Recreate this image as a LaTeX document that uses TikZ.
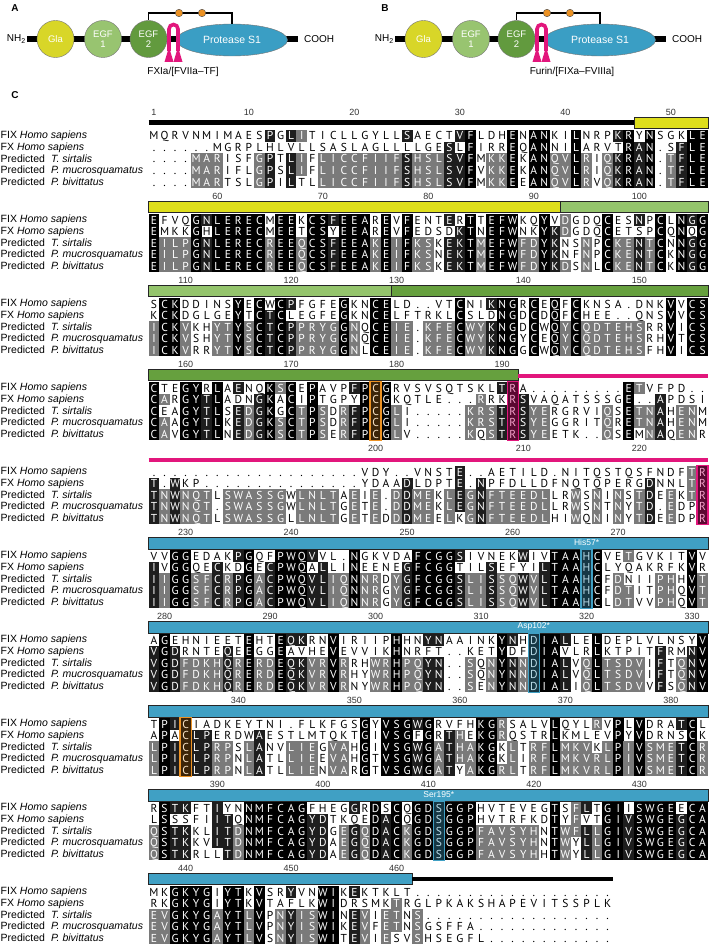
\documentclass[tikz,border=0pt]{standalone}
\usepackage{fontspec}
\setmainfont{Liberation Sans}
\newfontfamily\seqfont{PT Sans}
\usetikzlibrary{shapes.geometric}
\definecolor{glaY}{RGB}{216,214,40}
\definecolor{egfA}{RGB}{152,196,112}
\definecolor{egfB}{RGB}{98,154,62}
\definecolor{protB}{RGB}{58,158,196}
\definecolor{pinkC}{RGB}{226,22,124}
\definecolor{orgC}{RGB}{236,146,36}
\definecolor{barY}{RGB}{222,222,28}
\definecolor{barGa}{RGB}{148,196,108}
\definecolor{barGb}{RGB}{102,160,62}
\definecolor{barBl}{RGB}{64,160,196}
\definecolor{shadeD}{RGB}{30,30,30}
\definecolor{shadeM}{RGB}{122,122,122}
\tikzset{
 cellbase/.style={inner sep=0pt, minimum width=10.6pt, minimum height=11.4pt, text height=8pt, text depth=0pt, font=\seqfont\fontsize{11.5}{11.5}\selectfont},
 sfive/.style={cellbase, fill=black, text=white},
 sfour/.style={cellbase, fill=shadeD, text=white},
 sthree/.style={cellbase, fill=shadeM, text=white},
 szero/.style={cellbase, text=black},
 rulenum/.style={inner sep=0pt, font=\fontsize{9}{9}\selectfont, text=black!80},
 rowlab/.style={inner sep=0pt, anchor=west, font=\fontsize{10.5}{11}\selectfont},
 barline/.style={draw=black!85, line width=0.5pt},
 colbox/.style={line width=1.3pt},
 barlab/.style={inner sep=0pt, font=\fontsize{8.5}{8.5}\selectfont, text=white},
 dom/.style={circle, minimum size=37pt, inner sep=0pt, draw=black!55, line width=0.4pt, text=white, align=center, font=\fontsize{9.5}{10.5}\selectfont},
 panlab/.style={font=\bfseries\fontsize{10}{10}\selectfont, inner sep=0pt},
 txt/.style={font=\fontsize{10}{10}\selectfont, inner sep=0pt},
 odot/.style={circle, minimum size=7.5pt, inner sep=0pt, fill=orgC, draw=black!70, line width=0.4pt},
}

\ExplSyntaxOn
\int_new:N \g_aln_res_int
\int_new:N \g_aln_blk_int
\int_new:N \l_aln_n_int
\str_new:N \l_aln_c_str
\tl_new:N \l_aln_pos_tl
\tl_new:N \l_aln_sty_tl
\fp_new:N \l_aln_y_fp
\str_new:c { l_aln_row_1_str }
\str_new:c { l_aln_row_2_str }
\str_new:c { l_aln_row_3_str }
\str_new:c { l_aln_row_4_str }
\str_new:c { l_aln_row_5_str }
\cs_generate_variant:Nn \str_item:Nn { c }
\cs_generate_variant:Nn \str_set:Nn { c }
\cs_generate_variant:Nn \str_count:N { c }
\cs_new:Npn \aln_x:n #1 { \fp_eval:n { 143.45 + 10.55 * (#1) } }
\cs_new_protected:Npn \aln_put:nnnn #1 #2 #3 #4
  { \node~[#1]~(#2)~at~(#3)~{#4}; }
\cs_new_protected:Npn \aln_cell:nn #1 #2
  {
    \str_set:Nx \l_aln_c_str { \str_item:cn { l_aln_row_#1_str } {#2} }
    \tl_set:Nx \l_aln_pos_tl { \aln_x:n {#2} , \fp_eval:n { \l_aln_y_fp + (#1 - 1) * 11.5 } }
    \str_if_eq:VnTF \l_aln_c_str { . }
      { \tl_set:Nn \l_aln_sty_tl { szero } }
      {
        \int_zero:N \l_aln_n_int
        \int_step_inline:nn {5}
          {
            \str_if_eq:eeT { \str_item:cn { l_aln_row_##1_str } {#2} } { \l_aln_c_str }
              { \int_incr:N \l_aln_n_int }
          }
        \int_case:nnF { \l_aln_n_int }
          {
            {5} { \tl_set:Nn \l_aln_sty_tl { sfive } }
            {4} { \tl_set:Nn \l_aln_sty_tl { sfour } }
            {3} { \tl_set:Nn \l_aln_sty_tl { sthree } }
          }
          { \tl_set:Nn \l_aln_sty_tl { szero } }
      }
    \use:x
      {
        \exp_not:N \aln_put:nnnn { \l_aln_sty_tl }
          { c-\int_use:N \g_aln_blk_int -#1-#2 } { \l_aln_pos_tl } { \l_aln_c_str }
      }
  }
\cs_new_protected:Npn \alnblock #1 #2 #3 #4 #5 #6 #7
  {
    \int_gincr:N \g_aln_blk_int
    \fp_set:Nn \l_aln_y_fp {#1}
    \str_set:cn { l_aln_row_1_str } {#3}
    \str_set:cn { l_aln_row_2_str } {#4}
    \str_set:cn { l_aln_row_3_str } {#5}
    \str_set:cn { l_aln_row_4_str } {#6}
    \str_set:cn { l_aln_row_5_str } {#7}
    \int_step_inline:nn { \str_count:c { l_aln_row_1_str } }
      {
        \str_if_eq:eeF { \str_item:cn { l_aln_row_1_str } {##1} } { . }
          {
            \int_gincr:N \g_aln_res_int
            \bool_lazy_or:nnT
              { \int_compare_p:nNn { \int_mod:nn { \g_aln_res_int } {10} } = {0} }
              { \int_compare_p:nNn { \g_aln_res_int } = {1} }
              {
                \use:x
                  {
                    \exp_not:N \aln_put:nnnn { rulenum } { num-\int_use:N \g_aln_res_int }
                      { \aln_x:n {##1} , #2 } { \int_use:N \g_aln_res_int }
                  }
              }
          }
        \int_step_inline:nn {5} { \aln_cell:nn {####1} {##1} }
      }
  }
\ExplSyntaxOff

\newcommand{\dompanel}[2]{%
 \begin{scope}[xshift=#2pt]
  \node[txt, anchor=east] (#1nh) at (26,39) {NH\textsubscript{2}};
  \node[txt, anchor=west] (#1co) at (304,39) {COOH};
  \draw[line width=6pt] ([xshift=1pt]#1nh.east) -- ([xshift=-6pt]#1co.west);
  \node[dom, fill=glaY] (#1gla) at (55.5,39) {Gla};
  \node[dom, fill=egfA] (#1ea) at (103,39) {EGF\\1};
  \node[dom, fill=egfB] (#1eb) at (148.5,39) {EGF\\2};
  \node[ellipse, minimum width=111pt, minimum height=32pt, inner sep=0pt, fill=protB, draw=black!55, line width=0.4pt, text=white, font=\fontsize{10.5}{11}\selectfont] (#1pr) at (232,40) {Protease S1};
  \draw[line width=1.8pt] (#1eb.north) -- ++(0,-7.5) -| (#1pr.north);
  \node[odot] (#1oa) at (179,13) {};
  \node[odot] (#1ob) at (202,13) {};
  \draw[pinkC, line width=3.6pt] (169,51) -- (169,29) arc[start angle=180, end angle=360, radius=4.5] -- (178,51);
  \fill[pinkC] (169,47) -- (164.5,62) -- (173.5,62) -- cycle;
  \fill[pinkC] (178,47) -- (173.5,62) -- (182.5,62) -- cycle;
 \end{scope}}

\begin{document}
\begin{tikzpicture}[x=1pt, y=-1pt]
\useasboundingbox (0,0) rectangle (709,944);
\fill[white] (0,0) rectangle (709,944);

% ---------- panels A and B
\node[panlab] (labA) at (15,8) {A};
\node[panlab] (labB) at (385,8) {B};
\node[panlab] (labC) at (15,95) {C};
\dompanel{a}{0}
\dompanel{b}{368}
\node[txt] (cleavA) at (183,72) {FXIa/[FVIIa--TF]};
\node[txt] (cleavB) at (572,72) {Furin/[FIXa--FVIIIa]};

% ---------- domain bars
\draw[line width=5pt] (148.73,123) -- (634.03,123);
\filldraw[barline, fill=barY] (634.03,117.5) rectangle (707.88,128.5);
\filldraw[barline, fill=barY] (148.73,201.5) rectangle (560.18,212.5);
\filldraw[barline, fill=barGa] (560.18,201.5) rectangle (707.88,212.5);
\filldraw[barline, fill=barGa] (148.73,285.5) rectangle (391.38,296.5);
\filldraw[barline, fill=barGb] (391.38,285.5) rectangle (707.88,296.5);
\filldraw[barline, fill=barGb] (148.73,369.5) rectangle (517.98,380.5);
\draw[pinkC, line width=4pt] (517.98,376) -- (707.88,376);
\draw[pinkC, line width=4pt] (148.73,460) -- (707.88,460);
\filldraw[barline, fill=barBl] (148.73,537) rectangle (707.88,549);
\filldraw[barline, fill=barBl] (148.73,621) rectangle (707.88,633);
\filldraw[barline, fill=barBl] (148.73,705) rectangle (707.88,717);
\filldraw[barline, fill=barBl] (148.73,789) rectangle (707.88,801);
\filldraw[barline, fill=barBl] (148.73,873.5) rectangle (412.48,884.5);
\draw[line width=4.5pt] (412.48,879) -- (612.93,879);

\node[barlab] (his) at (586.55,542.5) {His57*};
\node[barlab] (asp) at (533.8,626.5) {Asp102*};
\node[barlab] (ser) at (438.85,794.5) {Ser195*};

% ---------- row labels
\foreach \k in {0,...,9}{
  \node[rowlab] (lfix\k) at (0.5,136+84*\k) {FIX \textit{Homo sapiens}};
  \node[rowlab] (lfx\k) at (0.5,147.5+84*\k) {FX \textit{Homo sapiens}};
  \node[rowlab] (lts\k) at (0.5,159+84*\k) {Predicted\hspace{6pt}\textit{T. sirtalis}};
  \node[rowlab] (lpm\k) at (0.5,170.5+84*\k) {Predicted\hspace{6pt}\textit{P. mucrosquamatus}};
  \node[rowlab] (lpb\k) at (0.5,182+84*\k) {Predicted\hspace{6pt}\textit{P. bivittatus}};
}

% ---------- alignment
\alnblock{136}{112}
{MQRVNMIMAESPGLITICLLGYLLSAECTVFLDHENANKILNRPKRYNSGKLE}
{......MGRPLHLVLLSASLAGLLLLGESLFIRREQANNILARVTRAN.SFLE}
{....MARISFGPTLIFLICCFIIFSHSLSVFMKKEKANQVLRIQKRAN.TFLE}
{....MARIFLGPSLIFLICCFIIFSHSLSVFVKKEKANQVLRIQKRAN.TFLE}
{....MARTSLGPILTLLICCFIIFSHSLSVFMKKEEANQVLRVQKRAN.TFLE}
\alnblock{220}{196}
{EFVQGNLERECMEEKCSFEEAREVFENTERTTEFWKQYVDGDQCESNPCLNGG}
{EMKKGHLERECMEETCSYEEAREVFEDSDKTNEFWNKYKDGDQCETSPCQNQG}
{EILPGNLERECREEQCSFEEAKEIFKSKEKTMEFWFDYKNSNPCKENTCNNGG}
{EILPGNLERECREEQCSFEEAKEIFKSNEKTMEFWFDYKNFNPCKENTCKNGG}
{EILPGNLERECREEQCSFEEAKEIFKSKEKTMEFWFDYKDSNLCKENTCKNGG}
\alnblock{304}{280}
{SCKDDINSYECWCPFGFEGKNCELD..VTCNIKNGRCEQFCKNSA.DNKVVCS}
{KCKDGLGEYTCTCLEGFEGKNCELFTRKLCSLDNGDCDQFCHEE..QNSVVCS}
{ICKVKHYTYSCTCPPRYGGNQCEIE.KFECWYKNGDCWQYCQDTEHSRRVICS}
{ICKVSHYTYSCTCPPRYGGNQCEIE.KFECWYKNGYCEQYCQDTEHSRHVTCS}
{ICKVRRYTYSCTCPPRYGGNLCEIE.KFECWYKNGGCWQYCQDTEHSFHVICS}
\alnblock{388}{364}
{CTEGYRLAENQKSCEPAVPFPCGRVSVSQTSKLTRA.........ETVFPD..}
{CARGYTLADNGKACIPTGPYPCGKQTLE...RRKRSVAQATSSSGE..APDSI}
{CEAGYTLSEDGKGCTPSDRFPCGLI.....KRSTRSYERGRVIQSETNAHENM}
{CAAGYTLKEDGKSCTPSDRFPCGLI.....KRSTRSYEGGRITQRETNAHENM}
{CAVGYTLNEDGKSCTPSERFPCGLV.....KQSTRSYEETK..QSEMNAQENR}
\alnblock{472}{448}
{....................VDY..VNSTE..AETILD.NITQSTQSFNDFTR}
{T.WKP...............YDAADLDPTE.NPFDLLDFNQTQPERGDNNLTR}
{TNWNQTLSWASSGWLNLTAEIE.DDMEKLEGNFTEEDLLRWSNINSTDEEKTR}
{TNWNQT.SWASSGWLNLTGETE.DDMEKLEGNFTEEDLLRWSNTNYTD.EDPR}
{TNWNQTLSWASSGLLNLTGETEDDDMEELKGNFTEEDLHIWQNINYTDEEDPR}
\alnblock{556}{532}
{VVGGEDAKPGQFPWQVVL.NGKVDAFCGGSIVNEKWIVTAAHCVETGVKITVV}
{IVGGQECKDGECPWQALLINEENEGFCGGTILSEFYILTAAHCLYQAKRFKVR}
{IIGGSFCRPGACPWQVLIQNNRDYGFCGGSLISSQWVLTAAHCFDNIIPHHVT}
{IIGGSFCRPGACPWQVLIQNNRGYGFCGGSLISSQWVLTAAHCFDTITPHQVT}
{IIGGSFCRPGACPWQVLIQNNRGYGFCGGSLISSQWVLTAAHCLDTVVPHQVT}
\alnblock{640}{616}
{AGEHNIEETEHTEQKRNVIRIIPHHNYNAAINKYNHDIALLELDEPLVLNSYV}
{VGDRNTEQEEGGEAVHEVEVVIKHNRFT..KETYDFDIAVLRLKTPITFRMNV}
{VGDFDKHQRERDEQKVRVRRHWRHPQYN..SQNYNNDIALVQLTSDVIFTQNV}
{VGDFDKHQRERDEQKVRVRHYWRHPQYN..SQNYNNDIALVQLTSDVIFTQNV}
{VGDFDKHQRERDEQKVRVRNYWRHPQYN..SENYNNDIALIQLTSDVVFSQNV}
\alnblock{724}{700}
{TPICIADKEYTNI.FLKFGSGYVSGWGRVFHKGRSALVLQYLRVPLVDRATCL}
{APACLPERDWAESTLMTQKTGIVSGFGRTHEKGRQSTRLKMLEVPYVDRNSCK}
{LPICLPRPSLANVLIEGVAHGIVSGWGATHAKGKLTRFLMKVKLPIVSMETCR}
{LPICLPRPNLATLLIEEVAHGTVSGWGATHAKGKLIRFLMKVRLPIVSMETCR}
{LPICLPRPNLATLLIENVARGTVSGWGATYAKGRLTRFLMKVRLPIVSMETCR}
\alnblock{808}{784}
{RSTKFTIYNNMFCAGFHEGGRDSCQGDSGGPHVTEVEGTSFLTGIISWGEECA}
{LSSSFIITQNMFCAGYDTKQEDACQGDSGGPHVTRFKDTYFVTGIVSWGEGCA}
{QSTKKLITDNMFCAGYDGEGQDACKGDSGGPFAVSYHNTWFLLGIVSWGEGCA}
{QSTKKVITDNMFCAGYDAEGQDACKGDSGGPFAVSYHNTWYLLGIVSWGEGCA}
{QSTKRLLTDNMFCAGYDAEGQDACKGDSGGPFAVSYHHTWYLLGIVSWGEGCA}
\alnblock{892}{868}
{MKGKYGIYTKVSRYVNWIKEKTKLT...................}
{RKGKYGIYTKVTAFLKWIDRSMKTRGLPKAKSHAPEVITSSPLK}
{EVGKYGAYTLVPNYISWINEVIETNS..................}
{EVGKYGAYTLVPNYISWIKEVFETNSGSFFA.............}
{EVGKYGAYTLVSNYISWITEVIESVSHSEGFL............}

% ---------- highlighted columns
\fill[orgC, opacity=0.25] (370.0,381.75) rectangle (381.1,440.25);
\draw[orgC, colbox] (370.0,381.75) rectangle (381.1,440.25);
\fill[pinkC, opacity=0.4] (507.2,381.75) rectangle (518.2,440.25);
\draw[pinkC, colbox] (507.2,381.75) rectangle (518.2,440.25);
\fill[pinkC, opacity=0.4] (697.1,465.75) rectangle (708.1,524.25);
\draw[pinkC, colbox] (697.1,465.75) rectangle (708.1,524.25);
\fill[barBl, opacity=0.35] (581.0,549) rectangle (592.1,608.25);
\draw[barBl, colbox] (581.0,549) rectangle (592.1,608.25);
\fill[barBl, opacity=0.35] (528.3,633) rectangle (539.3,692.25);
\draw[barBl, colbox] (528.3,633) rectangle (539.3,692.25);
\fill[orgC, opacity=0.25] (180.1,717.75) rectangle (191.2,776.25);
\draw[orgC, colbox] (180.1,717.75) rectangle (191.2,776.25);
\fill[barBl, opacity=0.35] (433.3,801) rectangle (444.4,860.25);
\draw[barBl, colbox] (433.3,801) rectangle (444.4,860.25);
\end{tikzpicture}
\end{document}
